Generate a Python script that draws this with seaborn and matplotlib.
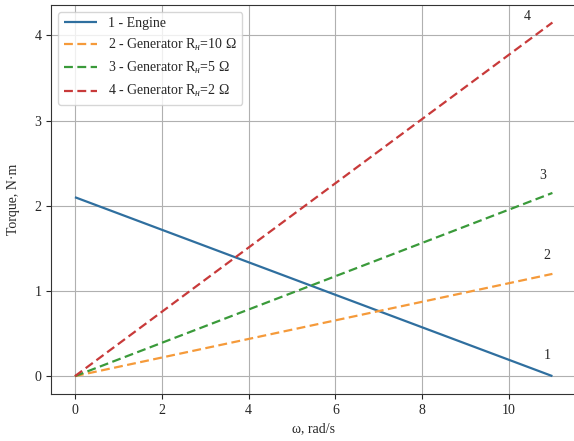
import pandas as pd
import seaborn as sns
import matplotlib.pyplot as plt

omega = [0, 11]
engine = [2.1, 0.0]
gen_10 = [0.0, 1.2]
gen_5 = [0.0, 2.15]
gen_2 = [0.0, 4.15]
labels = ['1 - Engine', '2 - Generator R$_{н}$=10 Ω', '3 - Generator R$_{н}$=5 Ω', '4 - Generator R$_{н}$=2 Ω']
end_marks = ['1', '2', '3', '4']

df = pd.DataFrame({
    'omega': omega * 4,
    'torque': engine + gen_10 + gen_5 + gen_2,
    'curve': [labels[0]] * 2 + [labels[1]] * 2 + [labels[2]] * 2 + [labels[3]] * 2,
})

sns.set_style('ticks')
plt.rcParams['font.family'] = ['Liberation Serif', 'DejaVu Serif']
plt.rcParams['mathtext.fontset'] = 'custom'
plt.rcParams['mathtext.rm'] = 'Liberation Serif'
plt.rcParams['mathtext.it'] = 'Liberation Serif:italic'

fig = plt.figure(figsize=(5.74, 4.41), dpi=100)
ax = fig.add_axes([0.089, 0.107, 0.915, 0.882])
colors = ['#2f6f9f', '#f59a3a', '#3a9a3a', '#c83a3a']
sns.lineplot(data=df, x='omega', y='torque', hue='curve', style='curve',
             palette=colors, dashes=[(1, 0), (4, 2), (4, 2), (4, 2)], linewidth=1.6, ax=ax)
ax.grid(True, color='#b0b0b0', linewidth=0.8)
for sp in ax.spines.values():
    sp.set_color('#333333')

# curve numbers near the line ends
ax.text(10.8, 0.2, end_marks[0], fontsize=10)
ax.text(10.8, 1.38, end_marks[1], fontsize=10)
ax.text(10.7, 2.31, end_marks[2], fontsize=10)
ax.text(10.35, 4.18, end_marks[3], fontsize=10)

ax.set_xlabel('ω, rad/s', fontsize=10)
ax.set_ylabel('Torque, N·m', fontsize=10, labelpad=10)
ax.set_xticks([0, 2, 4, 6, 8, 10])
ax.set_yticks([0, 1, 2, 3, 4])
ax.legend(title=None, loc='upper left', fontsize=10, frameon=True, handlelength=2.4)
plt.savefig('out.png')
